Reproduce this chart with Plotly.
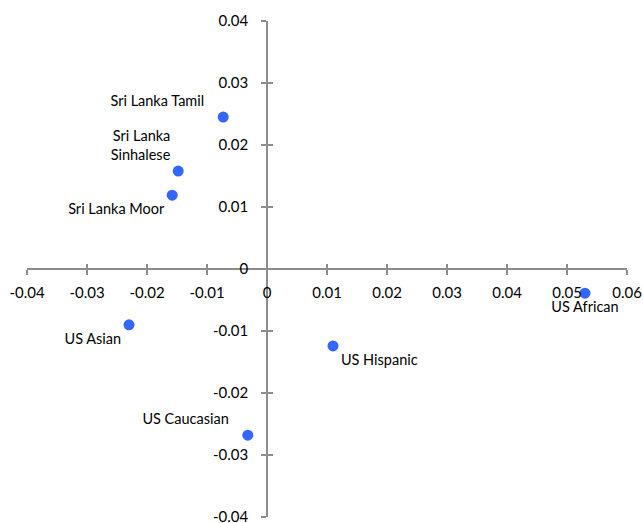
import plotly.graph_objects as go

names = ["Sri Lanka Tamil\u00a0\u00a0\u00a0", "Sri Lanka<br>Sinhalese", "Sri Lanka Moor",
         "US Asian", "US Hispanic", "US Caucasian\u00a0\u00a0\u00a0", "US African"]
x_vals = [-0.0073, -0.0148, -0.0158, -0.0230, 0.0110, -0.0032, 0.0530]
y_vals = [0.0245, 0.0158, 0.0119, -0.0090, -0.0124, -0.0268, -0.0039]
label_pos = ["top left", "top left", "bottom left", "bottom left",
             "bottom right", "top left", "bottom center"]

x_tickvals = [-0.04, -0.03, -0.02, -0.01, 0, 0.01, 0.02, 0.03, 0.04, 0.05, 0.06]
x_ticktext = ["-0.04", "-0.03", "-0.02", "-0.01", "0", "0.01", "0.02", "0.03", "0.04", "0.05", "0.06"]
y_tickvals = [-0.04, -0.03, -0.02, -0.01, 0, 0.01, 0.02, 0.03, 0.04]
y_ticktext = ["-0.04", "-0.03", "-0.02", "-0.01", "0", "0.01", "0.02", "0.03", "0.04"]

x_range = [-0.04, 0.06]
y_range = [-0.04, 0.04]
axis_color = "#8c8c8c"
font_family = "Lato, 'Liberation Sans', sans-serif"

fig = go.Figure()
fig.add_trace(go.Scatter(
    x=x_vals, y=y_vals, mode="markers+text", text=names,
    textposition=label_pos,
    marker=dict(size=11, color="#3366ff"),
    textfont=dict(family=font_family, size=14.5, color="#000000"),
    showlegend=False, hoverinfo="skip", cliponaxis=False))
# invisible trace to carry overlay axes (cross ticks)
fig.add_trace(go.Scatter(x=[None], y=[None], xaxis="x2", yaxis="y2",
                         showlegend=False, hoverinfo="skip"))

tick_style = dict(showgrid=False, zeroline=False, automargin=False,
                  tickcolor=axis_color, tickwidth=1.5, ticklen=5)
label_font = dict(family=font_family, size=15, color="#000000")

fig.update_layout(
    width=643, height=523,
    margin=dict(l=27, r=16, t=21, b=6, autoexpand=False),
    paper_bgcolor="white", plot_bgcolor="white",
    xaxis=dict(range=x_range, tickvals=x_tickvals, ticktext=x_ticktext,
               anchor="free", position=0.5, showline=True, linecolor=axis_color,
               linewidth=1.5, ticks="outside", tickfont=label_font,
               ticklabelstandoff=5, ticklabeloverflow="allow", **tick_style),
    yaxis=dict(range=y_range, tickvals=y_tickvals, ticktext=y_ticktext,
               anchor="free", position=0.4, showline=True, linecolor=axis_color,
               linewidth=1.5, ticks="outside", tickfont=label_font,
               ticklabelstandoff=10, ticklabeloverflow="allow", **tick_style),
    xaxis2=dict(range=x_range, tickvals=x_tickvals, overlaying="x", anchor="free",
                position=0.5, showline=False, ticks="inside", showticklabels=False,
                **tick_style),
    yaxis2=dict(range=y_range, tickvals=y_tickvals, overlaying="y", anchor="free",
                position=0.4, showline=False, ticks="inside", showticklabels=False,
                **tick_style),
)

fig.write_html("out.html", config={"displayModeBar": False},
               post_script="document.body.style.margin='0';document.body.style.overflow='hidden';")
